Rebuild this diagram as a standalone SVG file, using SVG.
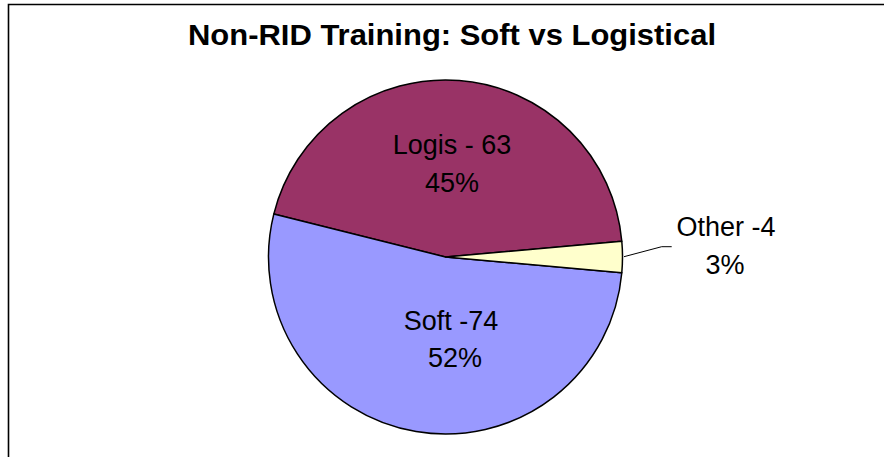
<svg xmlns="http://www.w3.org/2000/svg" width="884" height="457" viewBox="0 0 884 457">
  <style>
    .frame { fill: none; stroke: #000; stroke-width: 1.6; }
    .slice { stroke: #000; stroke-width: 1.5; stroke-linejoin: round; }
    .title { font-family: "Liberation Sans", Arial, sans-serif; font-weight: bold; font-size: 30px; fill: #000; }
    .lbl { font-family: "Liberation Sans", Arial, sans-serif; font-size: 27px; fill: #000; }
    .leader { fill: none; stroke: #000; stroke-width: 1; }
  </style>
  <rect x="0" y="0" width="884" height="457" fill="#fff"/>
  <!-- chart area border: top and left edges -->
  <path class="frame" d="M8.5,457 V4.5 H884"/>

  <text class="title" x="452" y="44.5" text-anchor="middle" textLength="528" lengthAdjust="spacingAndGlyphs">Non-RID Training: Soft vs Logistical</text>

  <g id="slice-logis">
    <path class="slice" fill="#993366" d="M445.5,257 L621.8,241.25 A177,177 0 0 0 273.79,214.06 Z"/>
    <text class="lbl" x="452" y="154" text-anchor="middle">Logis - 63</text>
    <text class="lbl" x="452" y="192" text-anchor="middle">45%</text>
  </g>
  <g id="slice-soft">
    <path class="slice" fill="#9999FF" d="M445.5,257 L273.79,214.06 A177,177 0 1 0 621.8,272.75 Z"/>
    <text class="lbl" x="451" y="330" text-anchor="middle">Soft -74</text>
    <text class="lbl" x="455" y="367" text-anchor="middle">52%</text>
  </g>
  <g id="slice-other">
    <path class="slice" fill="#FFFFCC" d="M445.5,257 L621.8,272.75 A177,177 0 0 0 621.8,241.25 Z"/>
    <text class="lbl" x="726" y="236" text-anchor="middle">Other -4</text>
    <text class="lbl" x="725" y="274" text-anchor="middle">3%</text>
  </g>

  <g id="connectors">
    <polyline class="leader" points="624,256.7 661.7,246.7 671.7,246.7"/>
  </g>
</svg>
